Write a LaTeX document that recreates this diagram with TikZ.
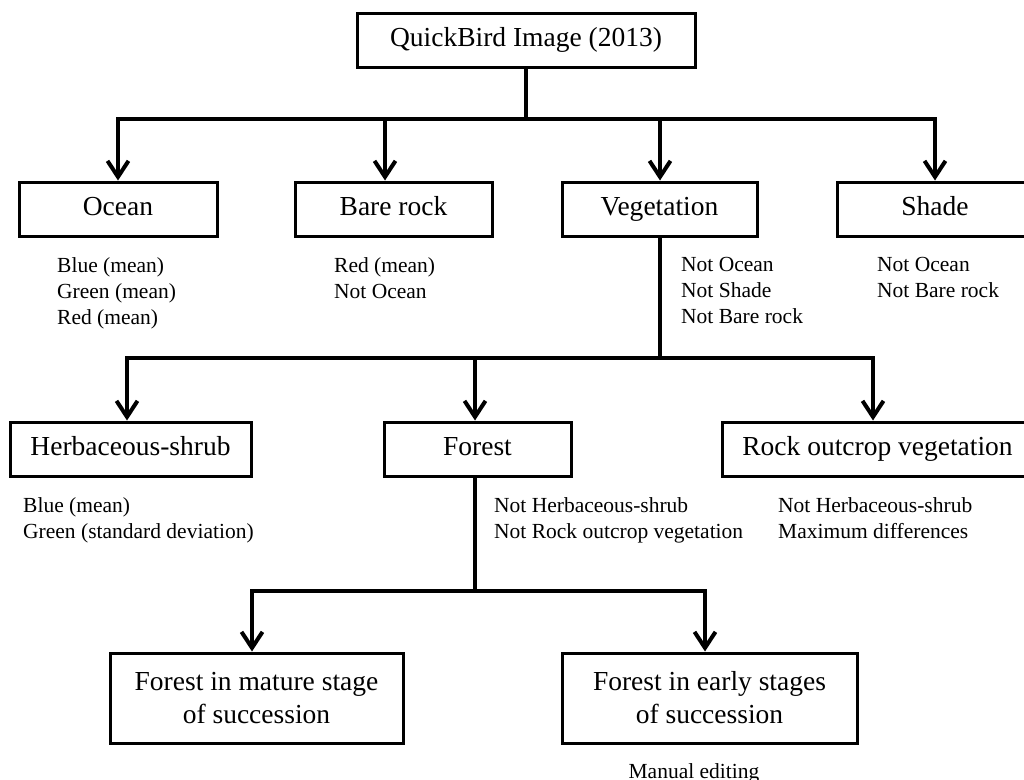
\documentclass[tikz,border=0pt]{standalone}
\usepackage{fontspec}
\setmainfont{Liberation Serif}
\usetikzlibrary{arrows.meta}
\begin{document}
\begin{tikzpicture}[x=1pt,y=-1pt,
  box/.style={draw=black,line width=3pt,inner sep=0pt,align=center,
    font=\fontsize{27.5}{33}\selectfont},
  onebox/.style={box,text height=19pt,text depth=6pt,minimum height=54pt},
  note/.style={anchor=north west,inner sep=0pt,align=left,
    font=\fontsize{21.5}{26}\selectfont},
  link/.style={line width=3.5pt},
  arr/.style={line width=3.5pt,-{Straight Barb[length=16pt,width=21pt,line width=4pt]}}]
\useasboundingbox (0,0) rectangle (1024,779);
% boxes
\node[onebox,minimum width=338pt] (qb) at (526,40) {QuickBird Image (2013)};
\node[onebox,minimum width=198pt] (ocean) at (118,209) {Ocean};
\node[onebox,minimum width=197pt] (bare) at (393.5,209) {Bare rock};
\node[onebox,minimum width=195pt] (veg) at (659.5,209) {Vegetation};
\node[onebox,minimum width=196pt] (shade) at (935,209) {Shade};
\node[onebox,minimum width=241pt] (herb) at (130.5,449) {Herbaceous-shrub};
\node[onebox,minimum width=187pt] (forest) at (477.5,449) {Forest};
\node[onebox,minimum width=311pt] (rock) at (877.5,449) {Rock outcrop vegetation};
\node[box,minimum width=293pt,minimum height=90pt] (mature) at (256.5,698) {Forest in mature stage\\of succession};
\node[box,minimum width=295pt,minimum height=90pt] (early) at (709.5,698) {Forest in early stages\\of succession};
% notes
\node[note] (nocean) at (57,257) {Blue (mean)\\Green (mean)\\Red (mean)};
\node[note] (nbare) at (334,257) {Red (mean)\\Not Ocean};
\node[note] (nveg) at (681,257) {Not Ocean\\Not Shade\\Not Bare rock};
\node[note] (nshade) at (877,257) {Not Ocean\\Not Bare rock};
\node[note] (nherb) at (23,497) {Blue (mean)\\Green (standard deviation)};
\node[note] (nforest) at (494,497) {Not Herbaceous-shrub\\Not Rock outcrop vegetation};
\node[note] (nrock) at (778,497) {Not Herbaceous-shrub\\Maximum differences};
\node[anchor=base,inner sep=0pt,font=\fontsize{21.5}{26}\selectfont] (manual) at (694,778) {Manual editing};
% branch coordinates
\coordinate (j1) at (526,119);
\coordinate (j1o) at (118,119);
\coordinate (j1b) at (385,119);
\coordinate (j1v) at (660,119);
\coordinate (j1s) at (935,119);
\coordinate (j2) at (660,358);
\coordinate (j2h) at (127,358);
\coordinate (j2f) at (475,358);
\coordinate (j2r) at (873,358);
\coordinate (j3) at (475,591);
\coordinate (j3m) at (252,591);
\coordinate (j3e) at (705,591);
% connectors
\draw[link] (qb.south) -- (j1);
\draw[link,line cap=rect] (j1o) -- (j1s);
\draw[arr] (j1o) -- (j1o |- ocean.north);
\draw[arr] (j1b) -- (j1b |- bare.north);
\draw[arr] (j1v) -- (j1v |- veg.north);
\draw[arr] (j1s) -- (j1s |- shade.north);
\draw[link] (j2 |- veg.south) -- (j2);
\draw[link,line cap=rect] (j2h) -- (j2r);
\draw[arr] (j2h) -- (j2h |- herb.north);
\draw[arr] (j2f) -- (j2f |- forest.north);
\draw[arr] (j2r) -- (j2r |- rock.north);
\draw[link] (j3 |- forest.south) -- (j3);
\draw[link,line cap=rect] (j3m) -- (j3e);
\draw[arr] (j3m) -- (j3m |- mature.north);
\draw[arr] (j3e) -- (j3e |- early.north);
\end{tikzpicture}
\end{document}
